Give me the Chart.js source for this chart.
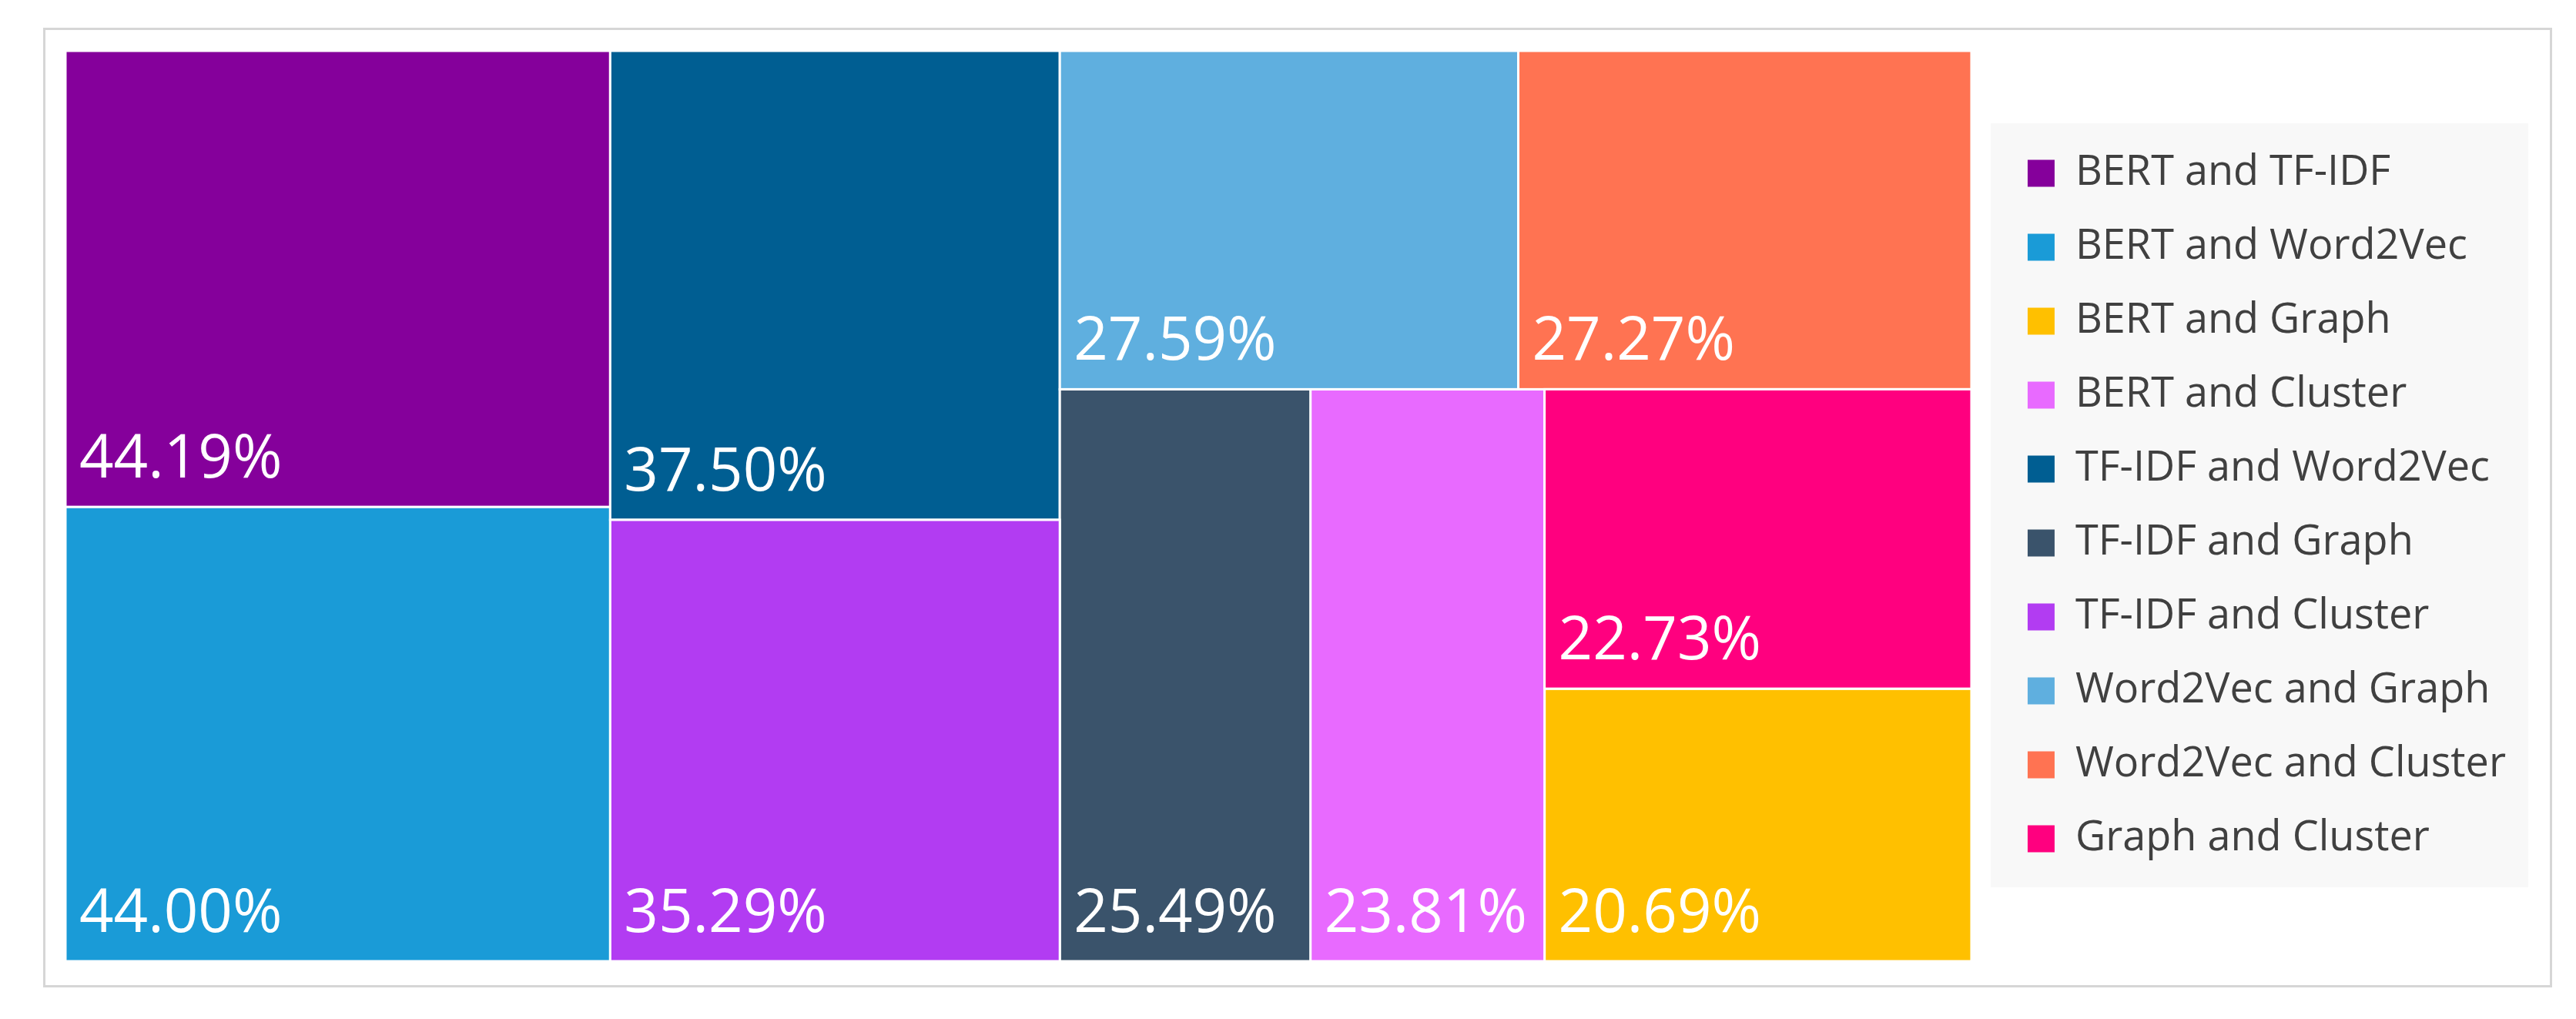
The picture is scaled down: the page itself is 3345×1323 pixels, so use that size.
<!DOCTYPE html>
<html>
<head>
<meta charset="utf-8">
<script src="https://cdn.jsdelivr.net/npm/chart.js@4.4.0/dist/chart.umd.min.js"></script>
<style>
  html, body { margin: 0; padding: 0; background: #fff; }
  .frame {
    position: absolute; left: 56px; top: 36px; width: 3258px; height: 1246px;
    border: 3px solid #d6d6d6; box-sizing: border-box;
  }
  .wrap { position: absolute; left: 0; top: 0; width: 3345px; height: 1323px; }
</style>
</head>
<body>
<div class="frame"></div>
<div class="wrap"><canvas id="treemap"></canvas></div>
<script>
const categories = [
    "BERT and TF-IDF", "BERT and Word2Vec", "BERT and Graph", "BERT and Cluster",
    "TF-IDF and Word2Vec", "TF-IDF and Graph", "TF-IDF and Cluster",
    "Word2Vec and Graph", "Word2Vec and Cluster", "Graph and Cluster"
];
const values = [44.19, 44.00, 20.69, 23.81, 37.50, 25.49, 35.29, 27.59, 27.27, 22.73];
const colors = [
    "#85009b", "#1a9bd7", "#ffc000", "#e86aff",
    "#005e92", "#3a536b", "#b23cf2",
    "#5fafdf", "#ff7352", "#ff007f"
];
// nesting of the tiles: 'h' = side by side, 'v' = stacked (indices into categories)
const groups = ["h", ["v", 0, 1], ["v", 4, 6], ["v", ["h", 7, 8], ["h", 5, 3, ["v", 9, 2]]]];

function total(node) {
    if (typeof node === "number") return values[node];
    return node.slice(1).reduce((s, k) => s + total(k), 0);
}

// slice-and-dice over the nesting, in unit coordinates
function layout(node, x0, y0, x1, y1, out) {
    if (typeof node === "number") { out[node] = { x0, y0, x1, y1 }; return out; }
    const dir = node[0];
    const sum = total(node);
    let pos = dir === "h" ? x0 : y0;
    node.slice(1).forEach(k => {
        const len = total(k) / sum * (dir === "h" ? x1 - x0 : y1 - y0);
        if (dir === "h") layout(k, pos, y0, pos + len, y1, out);
        else layout(k, x0, pos, x1, pos + len, out);
        pos += len;
    });
    return out;
}
const rects = layout(groups, 0, 0, 1, 1, []);

const legendBackground = {
    id: "legendBackground",
    beforeDraw(chart) {
        const lg = chart.legend;
        if (!lg || !lg.legendHitBoxes.length) return;
        const boxes = lg.legendHitBoxes;
        const first = boxes[0], last = boxes[boxes.length - 1];
        const ctx = chart.ctx;
        ctx.save();
        ctx.fillStyle = "#f8f8f8";
        ctx.fillRect(lg.left - 6, first.top - 38, lg.right - lg.left + 25,
            last.top + last.height - first.top + 74);
        ctx.restore();
    }
};

const tiles = {
    id: "tiles",
    beforeDatasetsDraw(chart) {
        const { ctx, scales: { x, y } } = chart;
        ctx.save();
        rects.forEach((r, i) => {
            const left = x.getPixelForValue(r.x0), right = x.getPixelForValue(r.x1);
            const top = y.getPixelForValue(r.y0), bottom = y.getPixelForValue(r.y1);
            ctx.fillStyle = colors[i];
            ctx.fillRect(left, top, right - left, bottom - top);
            ctx.strokeStyle = "#ffffff";
            ctx.lineWidth = 3;
            ctx.strokeRect(left, top, right - left, bottom - top);
            ctx.fillStyle = "#ffffff";
            ctx.font = "400 78px 'Open Sans'";
            ctx.textBaseline = "alphabetic";
            ctx.textAlign = "left";
            ctx.fillText(values[i].toFixed(2) + "%", left + 18, bottom - 38);
        });
        ctx.restore();
    }
};

new Chart(document.getElementById("treemap"), {
    type: "scatter",
    data: {
        datasets: categories.map((c, i) => ({
            label: c,
            data: [{ x: (rects[i].x0 + rects[i].x1) / 2, y: (rects[i].y0 + rects[i].y1) / 2 }],
            backgroundColor: colors[i],
            borderColor: colors[i],
            borderWidth: 0,
            pointRadius: 0
        }))
    },
    options: {
        responsive: true,
        maintainAspectRatio: false,
        animation: false,
        layout: { padding: { left: 85, top: 66, bottom: 75, right: 81 } },
        scales: {
            x: { type: "linear", min: 0, max: 1, display: false },
            y: {
                type: "linear", min: 0, max: 1, reverse: true, position: "right",
                ticks: { display: false }, grid: { display: false }, border: { display: false },
                afterFit(scale) { scale.width = 31; }
            }
        },
        plugins: {
            tooltip: { enabled: false },
            legend: {
                position: "right",
                labels: {
                    font: { family: "'Open Sans'", size: 54 },
                    color: "#404040",
                    boxWidth: 35,
                    boxHeight: 35,
                    padding: 42
                }
            }
        }
    },
    plugins: [legendBackground, tiles]
});
</script>
</body>
</html>
